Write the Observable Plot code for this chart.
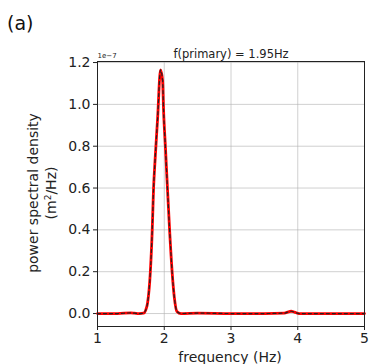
<!DOCTYPE html>
<html><head><meta charset="utf-8">
<script src="https://cdn.jsdelivr.net/npm/d3@7"></script>
<script src="https://cdn.jsdelivr.net/npm/@observablehq/plot@0.6"></script>
<style>body{margin:0;background:#fff}</style>
</head><body><div id="chart"></div>
<script>
// frequency (Hz) and PSD (units of 1e-7 m^2/Hz)
const freq = [1.0, 1.3, 1.5, 1.55, 1.62, 1.69, 1.72, 1.75, 1.79, 1.82, 1.84, 1.86, 1.9, 1.944, 1.975, 1.99, 2.02, 2.04, 2.08, 2.12, 2.15, 2.19, 2.25, 2.5, 3.0, 3.5, 3.8, 3.86, 3.9, 3.95, 4.02, 4.5, 5.0];
const psd  = [0.0, 0.0, 0.003, 0.002, 0.0, 0.002, 0.015, 0.05, 0.19, 0.40, 0.60, 0.72, 0.93, 1.165, 1.115, 0.97, 0.78, 0.65, 0.40, 0.19, 0.08, 0.01, 0.0, 0.002, 0.0, 0.0, 0.002, 0.008, 0.011, 0.007, 0.0, 0.0, 0.0];
const xTicks = [1, 2, 3, 4, 5];
const yTicks = [0, 0.2, 0.4, 0.6, 0.8, 1.0, 1.2];
const titleText = "f(primary) = 1.95Hz";
const data = freq.map((f, i) => ({f, p: psd[i]}));
const font = "'DejaVu Sans', sans-serif";

const plot = Plot.plot({
  width: 369, height: 364,
  marginLeft: 97, marginRight: 5, marginTop: 61, marginBottom: 38,
  style: {fontFamily: font, fontSize: "14px", color: "#222"},
  x: {domain: [1, 5], ticks: xTicks, tickSize: 4, tickPadding: 3, tickFormat: d3.format("d"), label: null},
  y: {domain: [-0.062, 1.205], ticks: yTicks, tickSize: 4, tickPadding: 3, tickFormat: d3.format(".1f"), label: null},
  marks: [
    Plot.gridX(xTicks, {stroke: "#b0b0b0", strokeOpacity: 0.6}),
    Plot.gridY(yTicks, {stroke: "#b0b0b0", strokeOpacity: 0.6}),
    Plot.line(data, {x: "f", y: "p", stroke: "red", strokeWidth: 2.8, curve: "monotone-x"}),
    Plot.line(data, {x: "f", y: "p", stroke: "#222", strokeWidth: 1.2, strokeDasharray: "3,3", curve: "monotone-x"}),
    Plot.frame({stroke: "#222", strokeWidth: 1}),
    Plot.text([titleText], {frameAnchor: "top", dy: -4, text: d => d, fontSize: 11.5, textAnchor: "middle", lineAnchor: "bottom"}),
    Plot.text(["1e\u22127"], {frameAnchor: "top-left", dy: -4, text: d => d, fontSize: 7, textAnchor: "start", lineAnchor: "bottom"})
  ]
});

const svg = d3.select(plot);
svg.append("text").attr("x", 7).attr("y", 30).attr("text-anchor", "start").attr("font-size", 19).attr("font-family", font).attr("fill", "#111").text("(a)");
svg.append("text").attr("transform", "translate(38,193) rotate(-90)").attr("text-anchor", "middle")
  .attr("font-size", 14).attr("font-family", font).attr("fill", "#222").text("power spectral density");
const t2 = svg.append("text").attr("transform", "translate(56,193) rotate(-90)").attr("text-anchor", "middle")
  .attr("font-size", 14).attr("font-family", font).attr("fill", "#222");
t2.append("tspan").text("(m");
t2.append("tspan").attr("font-size", 9).attr("dy", -5).text("2");
t2.append("tspan").attr("dy", 5).text("/Hz)");
svg.append("text").attr("x", 230).attr("y", 362).attr("text-anchor", "middle")
  .attr("font-size", 14).attr("font-family", font).attr("fill", "#222").text("frequency (Hz)");

document.getElementById("chart").appendChild(plot);
</script>
</body></html>
